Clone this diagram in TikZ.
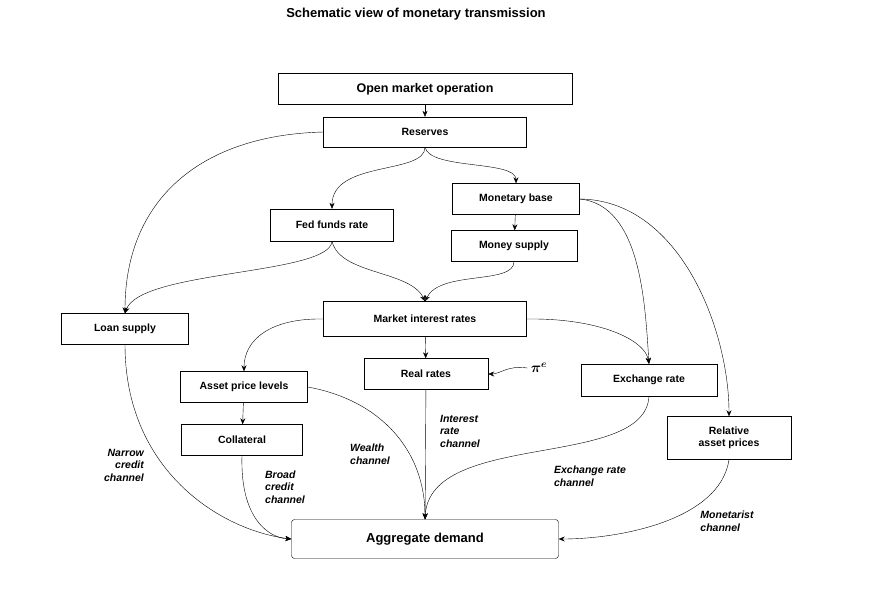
\documentclass[tikz,border=0pt]{standalone}
\usepackage{amsmath,bm}
\usepackage{fontspec}
\setmainfont{Liberation Sans}
\usetikzlibrary{arrows.meta}
\begin{document}
\begin{tikzpicture}[x=1pt,y=-1pt,
 box/.style={draw,thin,font=\bfseries\fontsize{10.5}{12.5}\selectfont,inner sep=0pt,align=center},
 lab/.style={font=\bfseries\itshape\fontsize{10.5}{12.5}\selectfont,align=left},
 ar/.style={-{Stealth[length=6pt,width=5pt]},thin}]
\useasboundingbox (0,0) rectangle (884,597);
\node[font=\bfseries\fontsize{13}{15}\selectfont] (t) at (416,14) {Schematic view of monetary transmission};
\node[box,minimum width=294,minimum height=31,font=\bfseries\fontsize{12.5}{14}\selectfont] (om) at (425,89) {Open market operation};
\node[box,minimum width=203,minimum height=30] (res) at (425,132) {Reserves};
\node[box,minimum width=127,minimum height=31] (mb) at (516,199) {Monetary base};
\node[box,minimum width=123,minimum height=32] (ff) at (332,225) {Fed funds rate};
\node[box,minimum width=126,minimum height=31] (ms) at (514,246) {Money supply};
\node[box,minimum width=127,minimum height=31] (ls) at (125,329) {Loan supply};
\node[box,minimum width=203,minimum height=35] (mi) at (425,319) {Market interest rates};
\node[box,minimum width=127,minimum height=31] (ap) at (244,387) {Asset price levels};
\node[box,minimum width=124,minimum height=31] (rr) at (426,374) {Real rates};
\node[box,minimum width=136,minimum height=32] (er) at (649,380) {Exchange rate};
\node[box,minimum width=121,minimum height=31] (co) at (242,440) {Collateral};
\node[box,minimum width=124,minimum height=43] (ra) at (729,438) {Relative\\asset prices};
\node[box,rounded corners=3pt,minimum width=267,minimum height=39,font=\bfseries\fontsize{13}{15}\selectfont] (ad) at (425,539) {Aggregate demand};
\node[font=\fontsize{14}{16}\selectfont] (pe) at (539,368) {$\bm{\pi}^{\bm{e}}$};
\node[lab,align=right] at (124,465) {Narrow\\credit\\channel};
\node[lab] at (285,487) {Broad\\credit\\channel};
\node[lab] at (370,454) {Wealth\\channel};
\node[lab] at (460,431) {Interest\\rate\\channel};
\node[lab] at (590,476) {Exchange rate\\channel};
\node[lab] at (727,521) {Monetarist\\channel};
\draw[ar] (om) -- (res);
\draw[ar] (res.south) .. controls (425,175) and (332,160) .. (ff.north);
\draw[ar] (res.south) .. controls (430,170) and (516,160) .. (mb.north);
\draw[ar] (res.west) .. controls (200,135) and (125,200) .. (ls.north);
\draw[ar] (mb) -- (ms);
\draw[ar] (ff.south) .. controls (330,275) and (140,270) .. (ls.north);
\draw[ar] (ff.south) .. controls (340,275) and (410,270) .. (mi.north);
\draw[ar] (ms.south) .. controls (514,285) and (440,270) .. (mi.north);
\draw[ar] (mb.east) .. controls (640,205) and (645,300) .. (er.north);
\draw[ar] (mb.east) .. controls (680,200) and (729,330) .. (ra.north);
\draw[ar] (mi.west) .. controls (270,318) and (244,340) .. (ap.north);
\draw[ar] (mi) -- (rr);
\draw[ar] (mi.east) .. controls (600,318) and (645,340) .. (er.north);
\draw[ar] (ap) -- (co);
\draw[ar] (pe.west) .. controls (508,365) and (500,374) .. (rr.east);
\draw[ar] (ls.south) .. controls (125,470) and (220,530) .. (ad.west);
\draw[ar] (co.south) .. controls (240,520) and (270,538) .. (ad.west);
\draw[ar] (ap.east) .. controls (380,400) and (425,450) .. (ad.north);
\draw[ar] (rr) -- (ad);
\draw[ar] (er.south) .. controls (645,470) and (430,430) .. (ad.north);
\draw[ar] (ra.south) .. controls (720,520) and (620,539) .. (ad.east);
\end{tikzpicture}
\end{document}
